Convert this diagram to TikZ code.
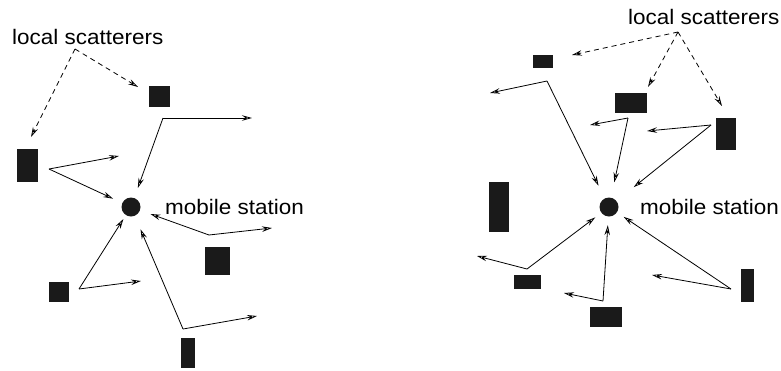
\documentclass[tikz,border=0pt]{standalone}
\usepackage{fontspec}
\usepackage{graphicx}
\setmainfont{Liberation Sans}
\usetikzlibrary{arrows.meta}
\definecolor{ink}{HTML}{1A1A1A}
\tikzset{
  scat/.style={rectangle,fill=ink,draw=none,inner sep=0pt,outer sep=0pt},
  station/.style={circle,fill=ink,draw=none,inner sep=0pt,minimum size=19pt},
  lbl/.style={anchor=base west,inner sep=0pt,font=\fontsize{21}{25}\selectfont},
  ray/.style={line width=0.8pt,-{Stealth[length=10pt,width=5.5pt,inset=3.5pt,open]}},
  hint/.style={line width=0.8pt,dash pattern=on 5pt off 4pt,-{Stealth[length=10pt,width=5.5pt,inset=3.5pt,open]}},
}
\begin{document}
\begin{tikzpicture}[x=1pt,y=-1pt]
\useasboundingbox (0,0) rectangle (781,370);
% ---------------- left ----------------
\node[lbl] (lsL) at (12,44) {\scalebox{1.07}[1]{local scatterers}};
\node[lbl] (msL) at (165,214.5) {\scalebox{1.07}[1]{mobile station}};
\node[station] (stL) at (131,207) {};
\node[scat,minimum width=21pt,minimum height=21pt] (s1) at (159.5,96.5) {};
\node[scat,minimum width=21pt,minimum height=33pt] (s2) at (27.5,165.5) {};
\node[scat,minimum width=25pt,minimum height=28pt] (s3) at (217.5,261) {};
\node[scat,minimum width=20pt,minimum height=20pt] (s4) at (59,292) {};
\node[scat,minimum width=14pt,minimum height=30pt] (s5) at (188,353) {};
\coordinate (aL) at (75,49);
\coordinate (dL1) at (31,137);
\coordinate (dL2) at (138,87);
\draw[hint] (aL) -- (dL1);
\draw[hint] (aL) -- (dL2);
\coordinate (p1) at (49,169);  \coordinate (t1) at (119,156);
\coordinate (p2) at (163,118); \coordinate (t2) at (252,118);
\coordinate (p3) at (209,235); \coordinate (t3) at (272,228);
\coordinate (p4) at (79,289);  \coordinate (t4) at (141,281);
\coordinate (p5) at (183,329); \coordinate (t5) at (257,316);
\draw[ray] (p1) -- (t1);
\draw[ray,shorten >=10pt] (p1) -- (stL);
\draw[ray] (p2) -- (t2);
\draw[ray,shorten >=10.5pt] (p2) -- (stL);
\draw[ray] (p3) -- (t3);
\draw[ray,shorten >=11pt] (p3) -- (stL);
\draw[ray] (p4) -- (t4);
\draw[ray,shorten >=4.5pt] (p4) -- (stL);
\draw[ray] (p5) -- (t5);
\draw[ray,shorten >=14.5pt] (p5) -- (stL);
% ---------------- right ----------------
\node[lbl] (lsR) at (628,24) {\scalebox{1.07}[1]{local scatterers}};
\node[lbl] (msR) at (640,214) {\scalebox{1.07}[1]{mobile station}};
\node[station] (stR) at (609,207) {};
\node[scat,minimum width=20pt,minimum height=13pt] (rA) at (543,61.5) {};
\node[scat,minimum width=32pt,minimum height=20pt] (rB) at (631,103) {};
\node[scat,minimum width=20pt,minimum height=32pt] (rC) at (726,134) {};
\node[scat,minimum width=20pt,minimum height=50pt] (rD) at (499,207) {};
\node[scat,minimum width=27pt,minimum height=14pt] (rE) at (527.5,282) {};
\node[scat,minimum width=32pt,minimum height=20pt] (rF) at (606,317) {};
\node[scat,minimum width=13pt,minimum height=33pt] (rG) at (747.5,285.5) {};
\coordinate (aR) at (678,32);
\coordinate (dR1) at (572,55);
\coordinate (dR2) at (648,87);
\coordinate (dR3) at (722,106);
\draw[hint] (aR) -- (dR1);
\draw[hint] (aR) -- (dR2);
\draw[hint] (aR) -- (dR3);
\coordinate (q1) at (547,81);  \coordinate (u1) at (490,93);
\coordinate (q2) at (628,118); \coordinate (u2) at (590,125);
\coordinate (q3) at (711,125); \coordinate (u3) at (647,131);
\coordinate (q4) at (527,269); \coordinate (u4) at (477,256);
\coordinate (q5) at (603,301); \coordinate (u5) at (564,293);
\coordinate (q6) at (731,289); \coordinate (u6) at (652,275);
\draw[ray] (q1) -- (u1);
\draw[ray,shorten >=14pt] (q1) -- (stR);
\draw[ray] (q2) -- (u2);
\draw[ray,shorten >=15.5pt] (q2) -- (stR);
\draw[ray] (q3) -- (u3);
\draw[ray,shorten >=22pt] (q3) -- (stR);
\draw[ray] (q4) -- (u4);
\draw[ray,shorten >=7.5pt] (q4) -- (stR);
\draw[ray] (q5) -- (u5);
\draw[ray,shorten >=8.5pt] (q5) -- (stR);
\draw[ray] (q6) -- (u6);
\draw[ray,shorten >=8pt] (q6) -- (stR);
\end{tikzpicture}
\end{document}
